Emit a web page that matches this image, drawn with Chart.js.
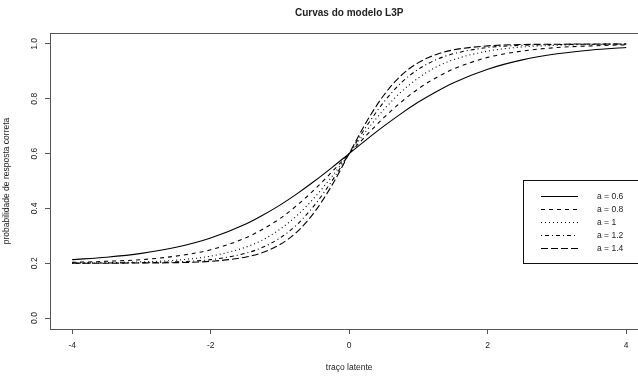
<!DOCTYPE html>
<html>
<head>
<meta charset="utf-8">
<script src="https://cdn.jsdelivr.net/npm/chart.js@4/dist/chart.umd.min.js"></script>
<style>
  html, body { margin: 0; padding: 0; background: #fff; overflow: hidden; }
  #wrap { width: 638px; height: 376px; }
</style>
</head>
<body>
<div id="wrap"><canvas id="myChart" width="638" height="376"></canvas></div>
<script>
const theta = [-4, -3.5, -3, -2.5, -2, -1.5, -1.25, -1, -0.75, -0.5, -0.25, 0, 0.25, 0.5, 0.75, 1, 1.25, 1.5, 2, 2.5, 3, 3.5, 4];
const p06 = [0.213, 0.222, 0.236, 0.258, 0.292, 0.342, 0.375, 0.412, 0.454, 0.500, 0.549, 0.600, 0.651, 0.700, 0.746, 0.788, 0.825, 0.858, 0.908, 0.942, 0.964, 0.978, 0.987];
const p08 = [0.203, 0.207, 0.213, 0.226, 0.249, 0.292, 0.324, 0.363, 0.412, 0.469, 0.533, 0.600, 0.667, 0.731, 0.788, 0.837, 0.876, 0.908, 0.951, 0.974, 0.987, 0.993, 0.997];
const p10 = [0.201, 0.202, 0.205, 0.211, 0.226, 0.258, 0.285, 0.324, 0.375, 0.440, 0.516, 0.600, 0.684, 0.760, 0.825, 0.876, 0.915, 0.942, 0.974, 0.989, 0.995, 0.998, 0.999];
const p12 = [0.200, 0.201, 0.202, 0.205, 0.213, 0.236, 0.258, 0.292, 0.342, 0.412, 0.500, 0.600, 0.700, 0.788, 0.858, 0.908, 0.942, 0.964, 0.987, 0.995, 0.998, 0.999, 1.000];
const p14 = [0.200, 0.200, 0.201, 0.202, 0.207, 0.222, 0.239, 0.268, 0.315, 0.387, 0.484, 0.600, 0.716, 0.813, 0.885, 0.932, 0.961, 0.978, 0.993, 0.998, 0.999, 1.000, 1.000];
const aLabels = ['0.6', '0.8', '1', '1.2', '1.4'];
const xTicks = [-4, -2, 0, 2, 4];
const yTicks = [0, 0.2, 0.4, 0.6, 0.8, 1.0];

const series = [p06, p08, p10, p12, p14];
const dashes = [[], [4, 4], [1, 3], [1, 3, 4, 3], [7, 3]]; // lty 1..5 do R

const FONT = "'Liberation Sans', Arial, sans-serif";
const INK = '#222';
const FRAME = '#555';

// moldura, títulos e legenda no estilo do R
const rDecor = {
  id: 'rDecor',
  afterDraw(chart) {
    const c = chart.ctx;
    const a = chart.chartArea;
    const cx = chart.scales.x.getPixelForValue(0);
    c.save();
    // linha superior da moldura
    c.strokeStyle = FRAME;
    c.lineWidth = 1;
    c.beginPath();
    c.moveTo(a.left, Math.round(a.top) + 0.5);
    c.lineTo(a.right, Math.round(a.top) + 0.5);
    c.stroke();

    c.fillStyle = INK;
    c.textAlign = 'center';
    c.textBaseline = 'middle';
    c.font = 'bold 10px ' + FONT;
    c.fillText('Curvas do modelo L3P', cx, 13);
    c.font = '8.5px ' + FONT;
    c.fillText('traço latente', cx, 368);

    // legenda
    const bx = 523.5, by = 180.5;
    c.fillStyle = '#fff';
    c.fillRect(bx, by, 130, 83);
    c.strokeStyle = '#111';
    c.strokeRect(bx, by, 130, 83);
    c.font = '8.5px ' + FONT;
    c.textAlign = 'left';
    chart.data.datasets.forEach((ds, i) => {
      const y = Math.round(195.5 + i * 13) + 0.5;
      c.strokeStyle = '#000';
      c.lineWidth = 1;
      c.setLineDash(ds.borderDash);
      c.beginPath();
      c.moveTo(541, y);
      c.lineTo(578, y);
      c.stroke();
      c.setLineDash([]);
      c.fillStyle = INK;
      c.fillText(ds.label, 597, y);
    });
    c.restore();
  }
};

new Chart(document.getElementById('myChart'), {
  type: 'line',
  data: {
    datasets: series.map((vals, i) => ({
      label: 'a = ' + aLabels[i],
      data: theta.map((t, j) => ({ x: t, y: vals[j] })),
      borderColor: '#000',
      borderWidth: 1.1,
      borderDash: dashes[i],
      pointRadius: 0,
      cubicInterpolationMode: 'monotone',
      fill: false
    }))
  },
  options: {
    responsive: false,
    devicePixelRatio: 1,
    animation: false,
    layout: { padding: { top: 33, right: 0, left: 0, bottom: 0 } },
    plugins: {
      legend: { display: false },
      title: { display: false },
      tooltip: { enabled: false }
    },
    scales: {
      x: {
        type: 'linear',
        min: -4.32,
        max: 4.17,
        afterBuildTicks: s => { s.ticks = xTicks.map(v => ({ value: v })); },
        afterFit: s => { s.height = 47; },
        grid: { display: true, drawOnChartArea: false, tickLength: 5, color: FRAME },
        border: { display: true, color: FRAME, width: 1 },
        ticks: {
          color: INK,
          padding: 7,
          maxRotation: 0,
          font: { family: FONT, size: 8.5 },
          callback: v => String(v)
        }
      },
      y: {
        min: -0.04,
        max: 1.04,
        afterBuildTicks: s => { s.ticks = yTicks.map(v => ({ value: v })); },
        afterFit: s => { s.width = 50; },
        grid: { display: true, drawOnChartArea: false, tickLength: 5, color: FRAME },
        border: { display: true, color: FRAME, width: 1 },
        title: {
          display: true,
          text: 'probabilidade de resposta correta',
          color: INK,
          font: { family: FONT, size: 8.5 },
          padding: { top: 2, bottom: 0 }
        },
        ticks: {
          color: INK,
          padding: 4,
          minRotation: 90,
          maxRotation: 90,
          crossAlign: 'center',
          font: { family: FONT, size: 8.5 },
          callback: v => v.toFixed(1)
        }
      }
    }
  },
  plugins: [rDecor]
});
</script>
</body>
</html>
